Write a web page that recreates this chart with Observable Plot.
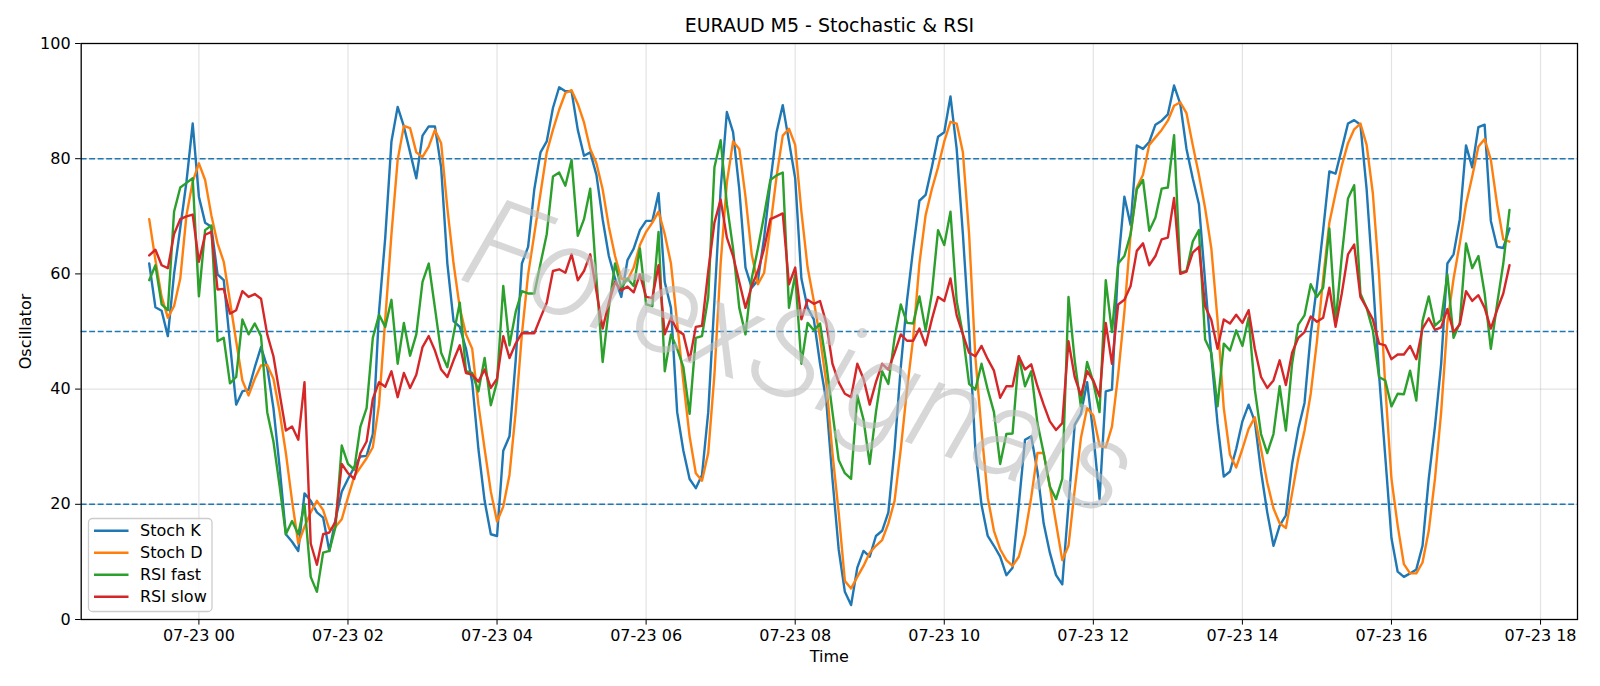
<!DOCTYPE html>
<html><head><meta charset="utf-8">
<script src="https://cdn.jsdelivr.net/npm/d3@7"></script>
<script src="https://cdn.jsdelivr.net/npm/@observablehq/plot@0.6"></script>
<style>html,body{margin:0;padding:0;background:#fff;overflow:hidden}#chart{width:1600px;height:686px}</style>
</head><body><div id="chart"></div>
<script>
// ---- data (5-minute bars, first bar 07-22 23:20) ----
const startTime = "2024-07-22T23:20:00Z";
const stepMinutes = 5;
const stochK = [61.8,54.2,53.6,49.2,60,68,76,86.1,73.4,68.9,68.2,59.9,58.9,48,37.3,39.6,39.9,43.8,47.3,43.8,
36.7,26.4,14.8,13.5,11.9,21.9,20.6,18.6,17.7,11.9,17.4,22.2,24.4,26.4,28.3,28.4,32.2,53.4,66.3,83.0,
89.0,85.6,81.1,76.6,84.0,85.6,85.6,78.5,61.8,51.8,50.8,47.0,41.2,29.6,20.6,14.8,14.5,29.3,31.8,45.0,
61.8,64.7,74.7,81.1,83.0,88.8,92.4,91.7,91.7,85.0,80.5,81.1,77.2,69.5,63.1,59.2,56.0,62.4,64.4,67.6,
69.2,69.2,74.0,58.6,54.1,36,29.3,24.4,22.8,25.1,36.0,55.3,74.7,88.1,84.6,74.7,61.1,57.6,58.9,66.3,
75.9,84.6,89.3,83.0,76.6,59.2,54.1,52.1,44.4,38.0,24.4,12.2,4.8,2.5,9.0,11.9,10.9,14.5,15.4,18.6,
29.6,43.8,55.3,64.4,72.7,73.7,78.5,83.8,84.6,90.8,81.7,66.9,50.2,29.6,19.9,14.5,12.8,10.9,7.7,9.0,
19.9,31.2,31.8,25.7,16.7,11.6,7.7,6.1,19.9,33.8,35.7,41.2,32.2,20.9,39.6,39.9,61.8,73.4,68.5,82.3,
81.7,82.9,85.9,86.6,87.7,92.7,89.5,81.7,76.6,72.1,58.6,45.7,34,24.8,25.7,29.6,34.4,37.3,34.4,25.7,
18.6,12.8,16.3,18.1,27.0,33.1,37.6,49.5,57.9,67.6,77.8,77.4,81.7,86.1,86.7,85.9,74.7,59.2,42.5,28.3,
14.1,8.3,7.4,8.0,8.7,12.8,24.4,33.5,44.4,61.8,63.4,69.5,82.3,78.5,85.5,85.9,69.2,64.7,64.5,67.9];
const stochD = [69.5,62.4,56.0,52.4,54.4,59.2,70.2,76.0,79.2,76.3,70.2,65.3,62.1,55.3,48.3,41.5,38.9,41.8,44.1,44.2,
41.8,36.0,28.9,20.6,13.2,16.1,18.6,20.6,19.0,15.7,16.1,17.4,21.2,24.8,26.4,28.0,29.9,37.3,52.1,66.9,
79.8,85.7,85.3,81.1,80.3,82.1,85.0,82.7,71.4,61.8,54.1,49.5,47.0,37.3,29.6,22.2,17.0,19.6,25.1,36.0,
49.5,59.9,66.9,74.0,81.1,85.0,88.5,91.4,91.9,89.5,86.3,81.7,79.2,74.7,68.2,63.1,59.2,58.9,61.1,65.0,
67.3,68.9,70.8,66.9,61.8,51.5,41.2,31.8,25.4,24.1,28.9,42.5,61.8,75.9,83.0,81.7,73.4,63.4,58.2,60.2,
68.2,76.9,84.0,85.2,82.4,70.8,61.1,55.3,48.9,41.2,28.9,18.6,6.7,5.4,7.4,9.3,11.6,12.8,13.8,16.7,
20.6,29.6,39.9,48.9,61.8,70.2,74.7,78.5,83.0,86.4,86.1,81.1,66.9,45.7,32.8,21.2,15.4,12.2,10.3,9.3,
10.9,14.8,21.2,28.9,28.9,23.1,16.7,10.3,12.8,22.5,31.5,36.7,35.4,30.2,29.9,33.5,42.5,53.4,66.9,75.0,
77.2,82.4,83.7,85.0,86.6,89.2,89.8,87.9,82.4,77.2,71.4,64.4,52,36.7,28.6,26.4,29.6,33.1,35.1,29.6,
23.8,19.3,16.7,15.9,21.9,28.0,32.8,39.2,48.3,59.2,68.9,74.0,78.8,82.7,85.1,86.1,82.4,74.0,59.9,40.5,
24.4,16.3,9.6,8.0,8.0,9.9,15.4,24.4,36.0,51.5,59.2,65.3,72.1,76.9,82.1,83.4,79.8,72.1,66.0,65.6];
const rsiFast = [58.9,61.5,54.7,53.7,70.8,75.0,75.8,76.6,56.1,67.6,68.4,48.3,48.9,41.0,42.1,52.1,49.5,51.4,49.2,36.0,
30.9,23.1,14.8,17.1,14.8,20,7.4,4.8,11.6,11.9,16.1,30.2,27.0,26.0,33.5,36.7,48.9,52.9,50.8,55.5,
44.4,51.5,45.8,49.5,58.6,61.8,54.1,46.3,43.8,49.5,55.0,43.1,42.8,39.6,45.4,37.2,41.3,57.9,47.6,53.4,
57.0,56.6,56.6,61.8,66.9,76.9,77.6,75.3,79.8,66.6,69.5,74.8,59.2,44.7,54.1,61.8,57.6,59.2,57.9,64.4,
54.7,54.4,67.3,43.1,49.5,47.0,43.8,35.7,48.9,49.2,56.0,78.5,83.2,72.1,64.4,54.1,49.5,59.2,64.4,70.2,
76.3,77.1,77.6,54.1,59.9,44.4,51.5,50.2,51.4,44.4,36.0,27.7,25.4,24.4,38.9,34.7,27.0,36.0,43.1,40.9,
48.9,54.7,51.5,51.4,56.1,50.2,56.6,67.6,65.0,70.8,55.3,49.5,40.9,39.9,44.4,39.9,36.0,27.0,32.2,32.3,
45.7,40.5,43.1,34.1,28.9,23.1,20.9,24.4,56.0,45.0,37.0,44.7,41.2,36.0,58.9,49.9,61.8,63.1,66.9,74.7,
76.3,67.5,69.8,74.8,75.0,84.1,60.2,60.5,65.6,67.6,48.6,46.3,37,47.9,46.7,50.2,47.5,52.4,39.9,32.2,
28.9,32.2,40.5,32.8,44.4,51.2,52.8,58.2,56.0,57.6,67.9,51.5,63.1,73.1,75.4,56.6,54.1,50.2,42.1,41.5,
37.0,39.2,39.1,43.2,38.0,51.8,56.1,51.0,52.0,59.9,48.9,51.5,65.3,61.0,63.1,56.6,47.0,54.7,61.8,71.1];
const rsiSlow = [63.2,64.2,61.5,61.0,66.9,69.5,70.0,70.3,62.1,66.8,67.3,57.3,57.4,53.1,53.7,57.0,56.0,56.5,55.7,49.5,
45.7,39.2,32.8,33.5,31.2,41.2,13.2,9.5,14.8,15.1,17.0,27.0,25.4,24.4,28.9,30.9,38.3,41.2,40.4,43.1,
38.6,42.8,40.2,42.5,47.3,49.2,46.7,43.4,42.1,45.0,47.6,42.8,42.5,41.3,43.4,40.2,41.8,49.2,45.4,47.9,
49.7,49.7,49.7,52.4,55.0,60.5,60.8,60.2,63.4,58.9,60.5,63.4,57.0,50.5,55.0,58.6,57.1,57.8,56.8,59.9,
56.0,55.8,61.5,49.5,52.4,50.2,49.5,45.0,50.8,51.0,60.5,68.9,72.9,66.3,63.1,58.6,54.1,57.9,60.5,64.4,
69.5,70.0,70.5,58.2,61.1,52.1,55.5,54.8,55.3,51.5,44.4,41.2,39.2,38.6,44.4,41.8,37.3,41.2,44.4,43.4,
46.3,49.5,48.4,48.4,50.5,47.6,52.1,56.0,55.3,59.2,52.8,49.5,46.3,45.7,47.5,45.2,43.2,38.5,40.5,40.5,
45.7,43.4,44.3,40.5,37.3,34.4,32.9,34.1,48.3,42.1,38.9,43.1,41.5,38.7,51.5,44.4,54.7,55.5,57.9,64.0,
65.3,61.5,63.1,66.0,66.3,73.2,60.0,60.4,63.7,64.7,54.4,52,47,52.1,51.4,52.9,51.5,53.7,47.0,42.1,
40.2,41.5,45.0,40.7,46.3,48.9,49.9,52.6,51.7,52.4,57.6,50.8,56.6,63.4,65.1,56.0,54.1,52.1,47.9,47.6,
45.2,46.0,46.0,47.5,45.2,50.5,52.3,50.3,50.7,53.9,49.9,51.2,57.0,55.3,56.3,54.1,50.5,53.7,56.6,61.5];
const seriesNames = ["Stoch K", "Stoch D", "RSI fast", "RSI slow"];
const seriesColors = ["#1f77b4", "#ff7f0e", "#2ca02c", "#d62728"];
const levels = [20, 50, 80];
const yTicks = [0, 20, 40, 60, 80, 100];
const titleText = "EURAUD M5 - Stochastic & RSI";
const xLabel = "Time";
const yLabel = "Oscillator";
const watermark = "ForexSignals";

// ---- build table ----
const t0 = new Date(startTime).getTime();
const times = stochK.map((_, i) => new Date(t0 + i * stepMinutes * 60000));
const allSeries = [stochK, stochD, rsiFast, rsiSlow];
const rows = seriesNames.flatMap((name, s) =>
  allSeries[s].map((v, i) => ({time: times[i], value: v, series: name})));
const span = times[times.length - 1] - times[0];
const xDomain = [new Date(+times[0] - 0.05 * span), new Date(+times[times.length - 1] + 0.05 * span)];
const xTicks = d3.utcHour.every(2).range(xDomain[0], xDomain[1]);

const W = 1600, H = 686;
const mL = 80.7, mR = 23, mT = 43, mB = 67;

const chart = Plot.plot({
  width: W, height: H,
  marginLeft: mL, marginRight: mR, marginTop: mT, marginBottom: mB,
  style: {fontFamily: "DejaVu Sans", fontSize: "16px", color: "black", background: "white"},
  x: {type: "utc", domain: xDomain},
  y: {domain: [0, 100]},
  color: {domain: seriesNames, range: seriesColors},
  marks: [
    Plot.gridX(xTicks, {stroke: "#b0b0b0", strokeOpacity: 0.35, strokeWidth: 1.2}),
    Plot.gridY(yTicks, {stroke: "#b0b0b0", strokeOpacity: 0.35, strokeWidth: 1.2}),
    Plot.ruleY(levels, {stroke: "#1f77b4", strokeWidth: 1.6, strokeDasharray: "5.9,2.6"}),
    Plot.lineY(rows, {x: "time", y: "value", z: "series", stroke: "series", strokeWidth: 2.4, strokeLinejoin: "round"}),
    Plot.text([watermark], {frameAnchor: "middle", textAnchor: "middle", lineAnchor: "middle",
      dx: -30, dy: 28, rotate: 20, fontSize: 128,
      fontFamily: "Roboto", fontStyle: "italic", fontWeight: 300,
      fill: "#bdbdbd", fillOpacity: 0.6}),
    Plot.frame({stroke: "black", strokeWidth: 1.3}),
    Plot.axisX({ticks: xTicks, tickFormat: d3.utcFormat("%m-%d %H"), tickSize: 5.6, tickPadding: 5, fontSize: 16, label: null}),
    Plot.axisY({ticks: yTicks, tickSize: 5.6, tickPadding: 5, fontSize: 16, label: null}),
    Plot.text([titleText], {frameAnchor: "top", textAnchor: "middle", lineAnchor: "middle", dy: -17.5, fontSize: 19}),
    Plot.text([xLabel], {frameAnchor: "bottom", textAnchor: "middle", lineAnchor: "middle", dy: 37, fontSize: 16}),
    Plot.text([yLabel], {frameAnchor: "left", textAnchor: "middle", lineAnchor: "middle", dx: -55, rotate: -90, fontSize: 16})
  ]
});
document.getElementById("chart").appendChild(chart);

// ---- legend (lower left, inside axes) ----
const svg = d3.select(chart);
const lg = svg.append("g").attr("font-family", "DejaVu Sans").attr("font-size", 16).attr("text-anchor", "start");
lg.append("rect").attr("x", 88.5).attr("y", 518.5).attr("width", 123.5).attr("height", 93)
  .attr("rx", 4).attr("fill", "white").attr("fill-opacity", 0.8).attr("stroke", "#cccccc").attr("stroke-width", 1.3);
seriesNames.forEach((name, i) => {
  const y = 530.7 + i * 22;
  lg.append("line").attr("x1", 94).attr("x2", 128.5).attr("y1", y).attr("y2", y)
    .attr("stroke", seriesColors[i]).attr("stroke-width", 2.4);
  lg.append("text").attr("x", 140).attr("y", y).attr("dy", "0.35em").attr("fill", "black")
    .attr("text-anchor", "start").text(name);
});
</script>
</body></html>
